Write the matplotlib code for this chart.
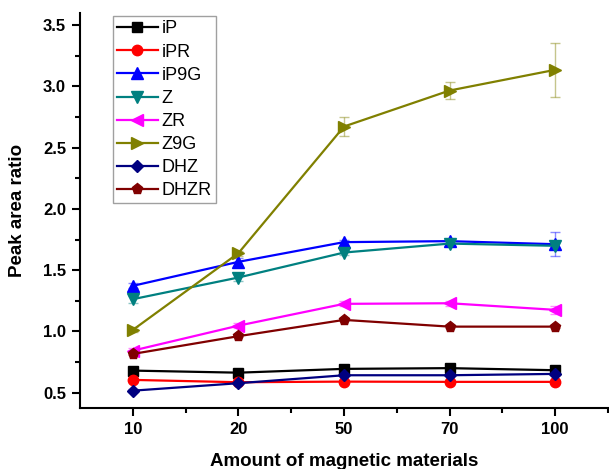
import matplotlib
matplotlib.use("Agg")
import matplotlib.pyplot as plt
import numpy as np

plt.rcParams['font.family'] = ['Liberation Sans', 'DejaVu Sans']

categories = ["10", "20", "50", "70", "100"]
series_names = ["iP", "iPR", "iP9G", "Z", "ZR", "Z9G", "DHZ", "DHZR"]
iP   = [0.680, 0.663, 0.694, 0.700, 0.683]
iPR  = [0.604, 0.585, 0.590, 0.588, 0.588]
iP9G = [1.372, 1.568, 1.729, 1.737, 1.712]
Z    = [1.263, 1.440, 1.644, 1.717, 1.699]
ZR   = [0.843, 1.047, 1.225, 1.230, 1.176]
Z9G  = [1.012, 1.639, 2.673, 2.967, 3.136]
DHZ  = [0.516, 0.577, 0.642, 0.642, 0.653]
DHZR = [0.816, 0.961, 1.094, 1.039, 1.039]

iP_err   = [0.01, 0.01, 0.01, 0.01, 0.01]
iPR_err  = [0.01, 0.01, 0.01, 0.01, 0.01]
iP9G_err = [0.02, 0.03, 0.02, 0.02, 0.10]
Z_err    = [0.03, 0.03, 0.02, 0.02, 0.02]
ZR_err   = [0.02, 0.02, 0.02, 0.02, 0.03]
Z9G_err  = [0.02, 0.02, 0.08, 0.07, 0.22]
DHZ_err  = [0.01, 0.01, 0.01, 0.01, 0.01]
DHZR_err = [0.01, 0.01, 0.01, 0.01, 0.01]

values = [iP, iPR, iP9G, Z, ZR, Z9G, DHZ, DHZR]
errors = [iP_err, iPR_err, iP9G_err, Z_err, ZR_err, Z9G_err, DHZ_err, DHZR_err]
colors = ["#000000", "#FF0000", "#0000FF", "#008080", "#FF00FF", "#808000", "#000080", "#800000"]
markers = ["s", "o", "^", "v", "<", ">", "D", "p"]
msizes = [7, 7.5, 8, 8, 8, 8, 6.5, 8]

W, H = 609, 469
fig = plt.figure(figsize=(W/100, H/100), dpi=100)
ax = fig.add_axes([80/W, (H-407.7)/H, (608-80)/W, (407.7-13)/H])

x = np.arange(1, len(categories)+1)
for name, v, e, c, m, ms in zip(series_names, values, errors, colors, markers, msizes):
    ax.errorbar(x, v, yerr=e, color=c, ecolor=c, elinewidth=1.0, capsize=3.5,
                capthick=1.0, fmt='none', alpha=0.45, zorder=2)
    ax.plot(x, v, color=c, marker=m, markersize=ms, linewidth=1.6, label=name, zorder=3)

ax.set_xlim(0.5, 5.5)
ax.set_ylim(0.377, 3.6)
ax.set_xticks(x)
ax.set_xticklabels(categories)
ax.set_xticks(np.arange(1.5, 6.0, 1.0), minor=True)
ax.set_yticks([0.5, 1.0, 1.5, 2.0, 2.5, 3.0, 3.5])
ax.set_yticks(np.arange(0.75, 3.6, 0.5), minor=True)
ax.yaxis.set_major_formatter(matplotlib.ticker.FormatStrFormatter('%.1f'))

for s in ['top', 'right']:
    ax.spines[s].set_visible(False)
for s in ['left', 'bottom']:
    ax.spines[s].set_linewidth(1.5)
ax.tick_params(which='major', direction='out', length=6, width=1.5, labelsize=12, pad=4)
ax.tick_params(which='minor', direction='out', length=3.5, width=1.5)
for lab in ax.get_xticklabels() + ax.get_yticklabels():
    lab.set_fontweight('bold')

ax.set_xlabel("Amount of magnetic materials", fontsize=13.5, fontweight='bold', labelpad=12)
ax.set_ylabel("Peak area ratio", fontsize=13.5, fontweight='bold', labelpad=12)

leg = ax.legend(loc='upper left', bbox_to_anchor=(112.7/W, 1-16.5/H),
                bbox_transform=fig.transFigure, borderaxespad=0, frameon=True,
                fancybox=False, edgecolor='#888888', fontsize=13, numpoints=1,
                handlelength=2.3, handletextpad=0.2, labelspacing=0.34,
                borderpad=0.22)
leg.get_frame().set_linewidth(1.0)

fig.savefig("out.png", dpi=100)
